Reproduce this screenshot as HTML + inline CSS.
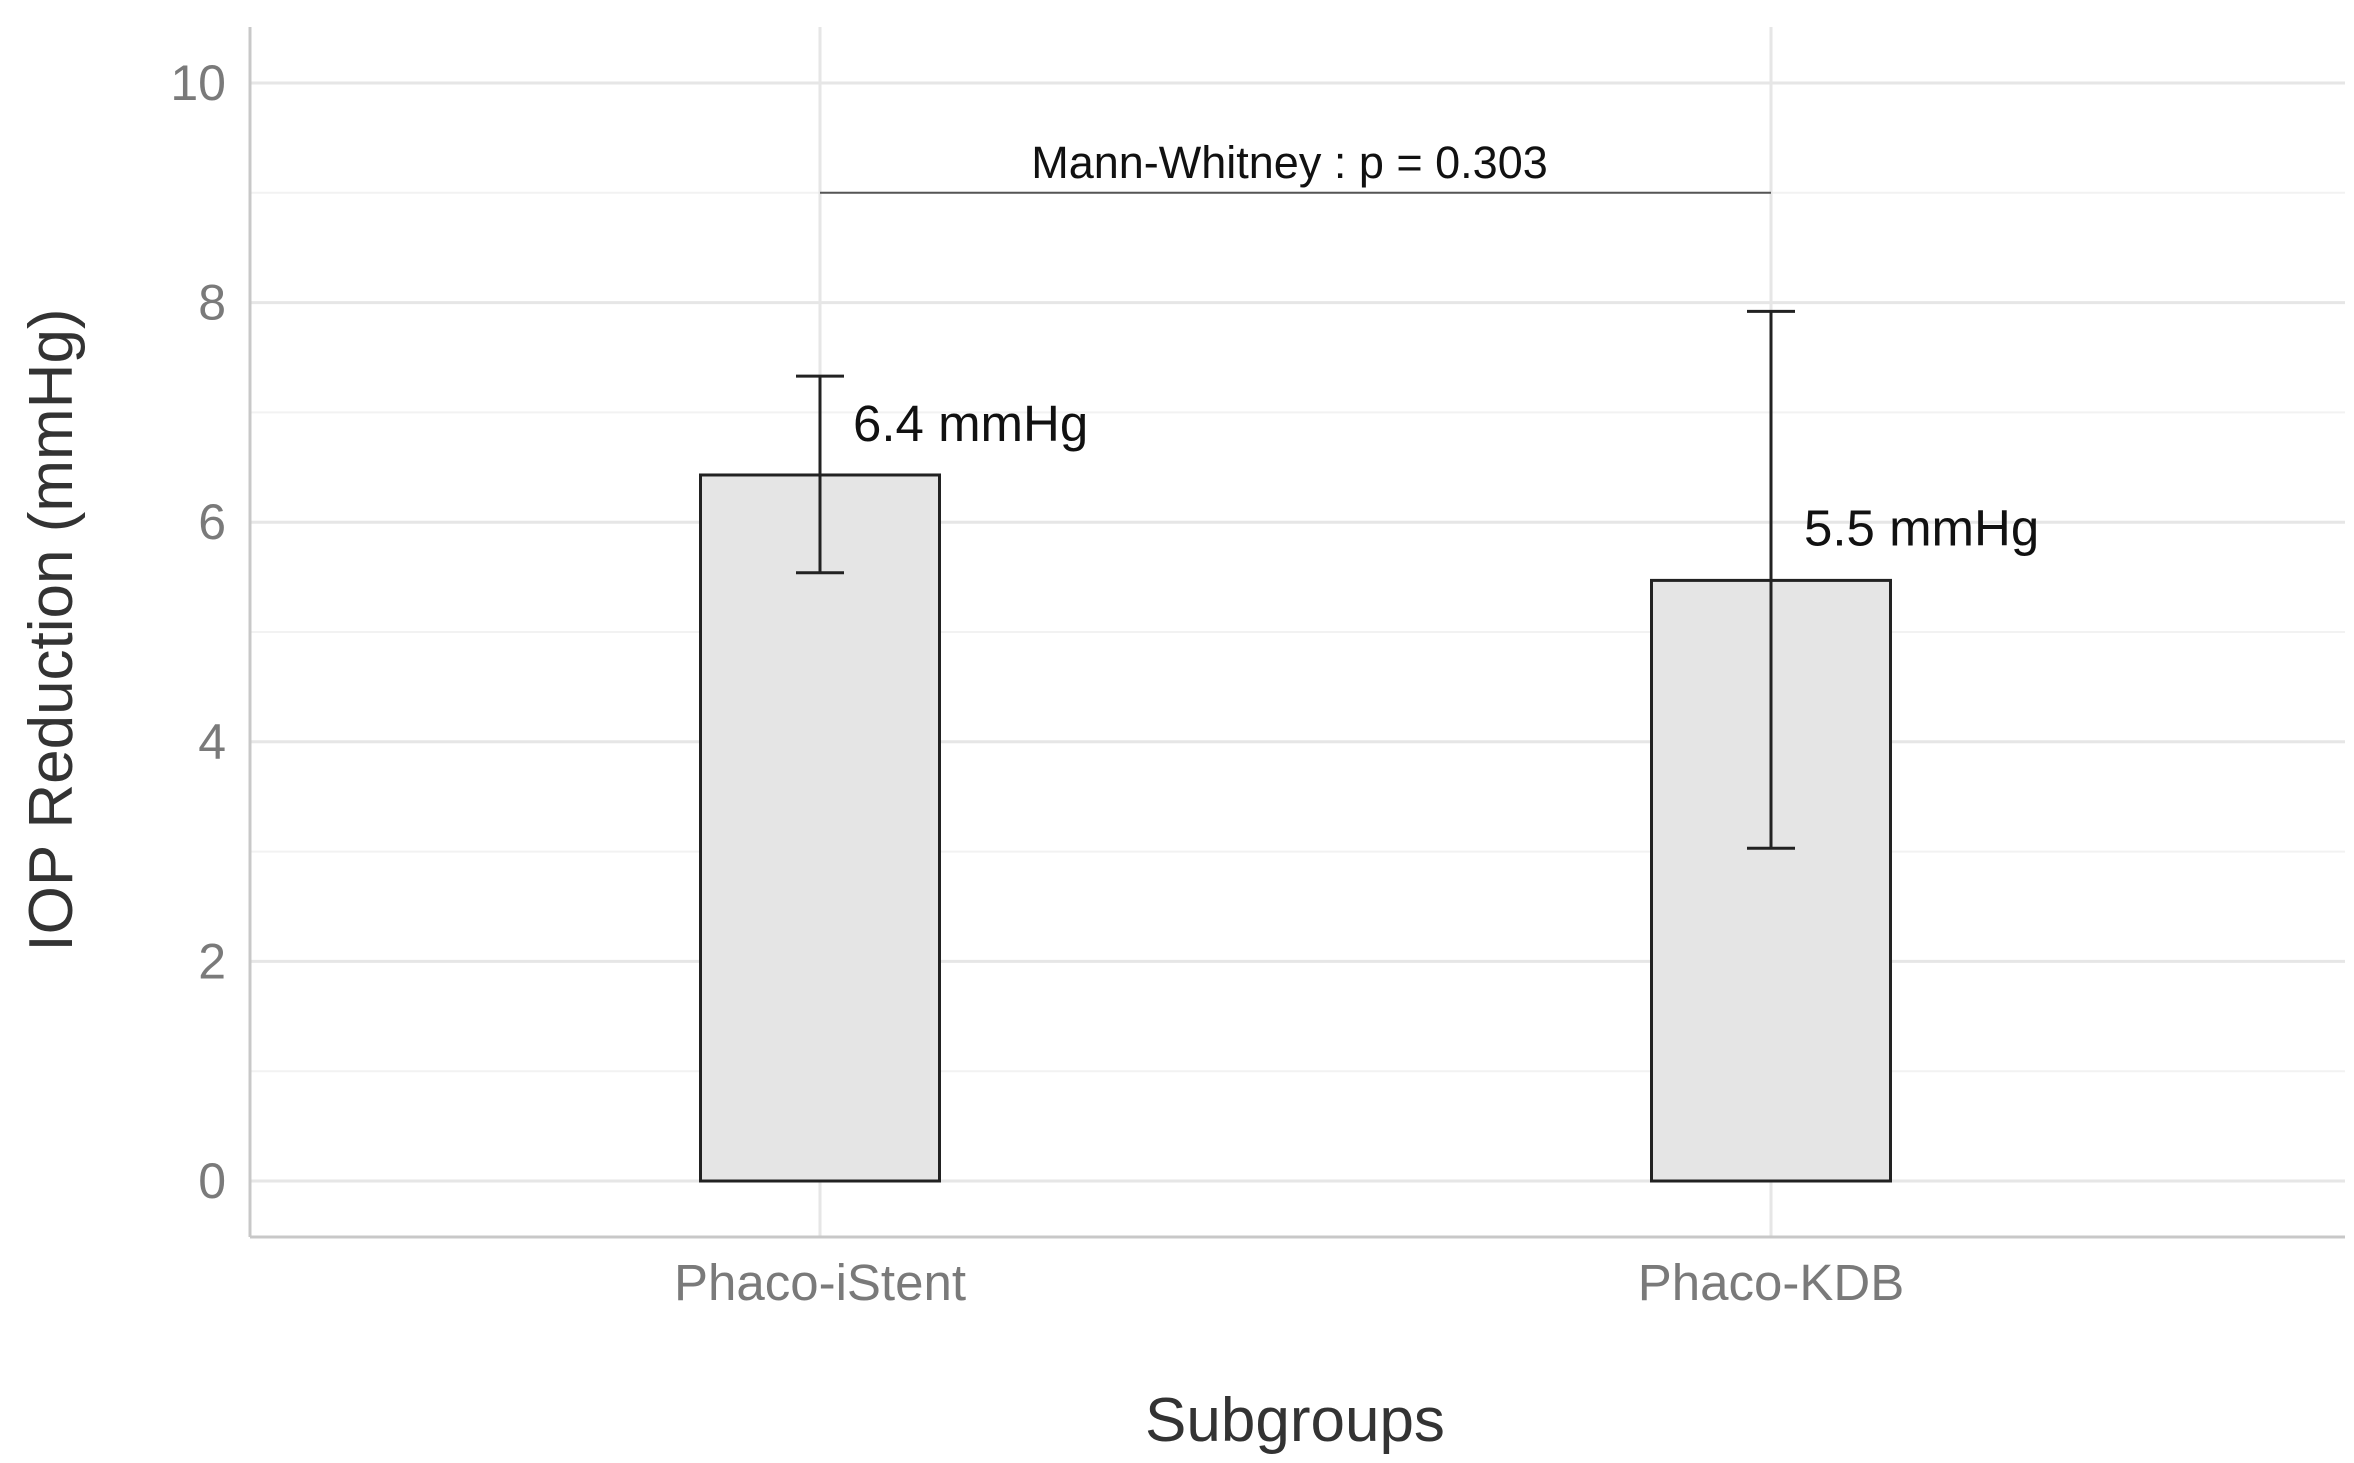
<!DOCTYPE html>
<html><head><meta charset="utf-8"><style>html,body{margin:0;padding:0;background:#fff}svg{display:block}</style></head>
<body>
<svg id="chart" width="2354" height="1463" xmlns="http://www.w3.org/2000/svg" font-family="Liberation Sans, Arial, sans-serif"></svg>
<script>
const categories = ["Phaco-iStent", "Phaco-KDB"];
const means = [6.43, 5.47];
const errLow = [5.54, 3.03];
const errHigh = [7.33, 7.92];
const valueLabels = ["6.4 mmHg", "5.5 mmHg"];
const yTicks = [0, 2, 4, 6, 8, 10];
const yMinor = [1, 3, 5, 7, 9];
const bracketY = 9;
const bracketLabel = "Mann-Whitney : p = 0.303";

const svg = document.getElementById('chart');
const NS = 'http://www.w3.org/2000/svg';
const L = 250, R = 2345, T = 27, B = 1237;
const y0 = 1181, y10 = 83;
const xCenters = [820, 1771];
const barW = 239;
function yS(v){ return y0 + (y10 - y0) * v / 10; }
function xS(i){ return xCenters[i]; }
function mk(tag, attrs, parent){ const e = document.createElementNS(NS, tag); for (const k in attrs) e.setAttribute(k, attrs[k]); (parent||svg).appendChild(e); return e; }

yMinor.forEach(v => {
  const l = mk('line', {x1:L, x2:R, y1:yS(v), y2:yS(v), stroke:'#f2f2f2', 'stroke-width':2});
  
  
});
yTicks.forEach(v => {
  const l = mk('line', {x1:L, x2:R, y1:yS(v), y2:yS(v), stroke:'#e6e6e6', 'stroke-width':3});
  
  
  const t = mk('text', {x:L-24, y:yS(v)+17, 'text-anchor':'end', 'font-size':50, fill:'#7a7a7a'});
  t.textContent = v;
  
  
});
categories.forEach((c, i) => {
  const l = mk('line', {x1:xS(i), x2:xS(i), y1:T, y2:B, stroke:'#e6e6e6', 'stroke-width':3});
  
  
});
const ya = mk('line', {x1:L, x2:L, y1:T, y2:B, stroke:'#c8c8c8', 'stroke-width':3});


const xa = mk('line', {x1:L, x2:R, y1:B, y2:B, stroke:'#c8c8c8', 'stroke-width':3});



categories.forEach((c, i) => {
  const x = xS(i);
  const bar = mk('rect', {x:x-barW/2, y:yS(means[i]), width:barW, height:yS(0)-yS(means[i]), fill:'#e5e5e5', stroke:'#222', 'stroke-width':3});
  
  
  const g = mk('g', {stroke:'#222', 'stroke-width':3});
  
  
  mk('line', {x1:x, x2:x, y1:yS(errLow[i]), y2:yS(errHigh[i])}, g);
  mk('line', {x1:x-24, x2:x+24, y1:yS(errLow[i]), y2:yS(errLow[i])}, g);
  mk('line', {x1:x-24, x2:x+24, y1:yS(errHigh[i]), y2:yS(errHigh[i])}, g);
  const vl = mk('text', {x:x+33, y:yS(means[i]) - (i===0 ? 34 : 35), 'font-size':51, fill:'#111'});
  vl.textContent = valueLabels[i];
  
  
  const tl = mk('text', {x:x, y:1300, 'text-anchor':'middle', 'font-size':51, fill:'#7a7a7a'});
  tl.textContent = c;
  
  
});
const br = mk('line', {x1:xS(0), x2:xS(1), y1:yS(bracketY), y2:yS(bracketY), stroke:'#555', 'stroke-width':2});


const bt = mk('text', {x:(xS(0)+xS(1))/2 - 6, y:yS(bracketY)-15, 'text-anchor':'middle', 'font-size':45, fill:'#111'});
bt.textContent = bracketLabel;


const xt = mk('text', {x:1295, y:1441, 'text-anchor':'middle', 'font-size':62, fill:'#333'});
xt.textContent = 'Subgroups';


const yt = mk('text', {x:0, y:0, 'text-anchor':'middle', 'font-size':62, fill:'#333', transform:'translate(72,630) rotate(-90)'});
yt.textContent = 'IOP Reduction (mmHg)';


</script>
</body></html>
